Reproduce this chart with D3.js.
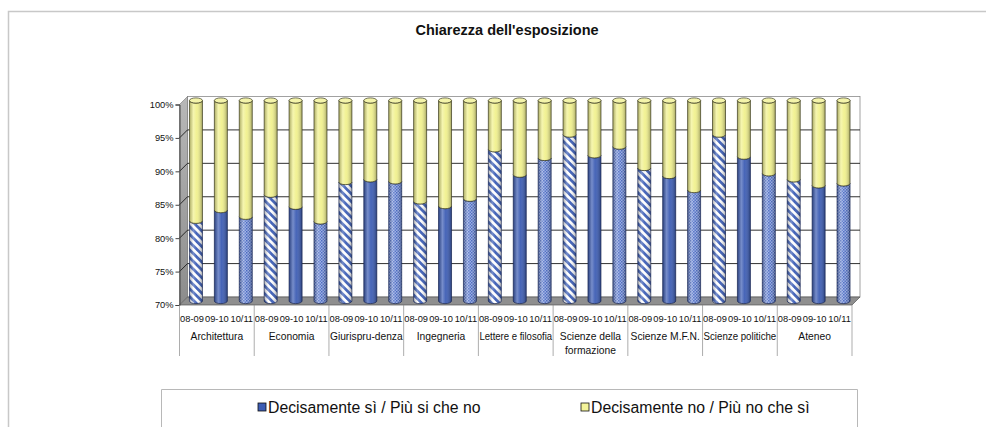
<!DOCTYPE html>
<html>
<head>
<meta charset="utf-8">
<script src="https://cdn.jsdelivr.net/npm/d3@7"></script>
<style>
  body { margin: 0; background: #fff; }
  text { font-family: "Liberation Sans", Arial, sans-serif; fill: #111; }
</style>
</head>
<body>
<script>
  const categories = [
    ['Architettura'], ['Economia'], ['Giurispru-denza'], ['Ingegneria'],
    ['Lettere e filosofia'], ['Scienze della', 'formazione'], ['Scienze M.F.N.'],
    ['Scienze politiche'], ['Ateneo']
  ];
  const years = ['08-09', '09-10', '10/11'];
  // "Decisamente sì / Più si che no" share, 3 years per category
  const positive = [
    82.0, 83.6, 82.6,
    85.9, 84.1, 81.9,
    87.8, 88.2, 87.9,
    84.9, 84.2, 85.3,
    92.7, 88.9, 91.4,
    94.9, 91.8, 93.1,
    89.9, 88.7, 86.6,
    94.9, 91.6, 89.1,
    88.2, 87.3, 87.6
  ];
  const yTicks = [70, 75, 80, 85, 90, 95, 100];
  const legendLabels = ['Decisamente sì / Più si che no', 'Decisamente no / Più no che sì'];

  const W = 986, H = 427;
  const dx = 8, dy = -8;          // 3D depth offset
  const mx = dx / 2, my = dy / 2; // bars sit at middle depth

  const svg = d3.select('body').append('svg').attr('width', W).attr('height', H);
  const defs = svg.append('defs');

  // stripes for 08-09
  const stripes = defs.append('pattern').attr('id', 'stripes')
    .attr('patternUnits', 'userSpaceOnUse').attr('width', 5.5).attr('height', 5.5)
    .attr('patternTransform', 'rotate(-45)');
  stripes.append('rect').attr('width', 5.5).attr('height', 5.5).attr('fill', '#ffffff');
  stripes.append('rect').attr('width', 2.8).attr('height', 5.5).attr('fill', '#3a5cb6');

  // dots for 10/11
  const dots = defs.append('pattern').attr('id', 'dots')
    .attr('patternUnits', 'userSpaceOnUse').attr('width', 3).attr('height', 3);
  dots.append('rect').attr('width', 3).attr('height', 3).attr('fill', '#96abe4');
  dots.append('rect').attr('width', 1.5).attr('height', 1.5).attr('fill', '#4262bc');
  dots.append('rect').attr('x', 1.5).attr('y', 1.5).attr('width', 1.5).attr('height', 1.5).attr('fill', '#4d6cc2');

  const shade = defs.append('linearGradient').attr('id', 'shade');
  [[0, '#000', 0.28], [0.3, '#fff', 0.3], [0.55, '#fff', 0.05], [1, '#000', 0.32]].forEach(([o, c, a]) =>
    shade.append('stop').attr('offset', o).attr('stop-color', c).attr('stop-opacity', a));

  const wallGrad = defs.append('linearGradient').attr('id', 'wall').attr('x1', 0).attr('x2', 0).attr('y1', 0).attr('y2', 1);
  wallGrad.append('stop').attr('offset', 0).attr('stop-color', '#b8b8b8');
  wallGrad.append('stop').attr('offset', 1).attr('stop-color', '#8c8c8c');

  // outer chart border
  svg.append('path').attr('d', `M8.5,${H}V11.5H${W}`).attr('fill', 'none')
    .attr('stroke', '#c8c8c8').attr('stroke-width', 1.5);

  svg.append('text').attr('x', 507).attr('y', 35).attr('text-anchor', 'middle')
    .attr('font-size', 14.5).attr('font-weight', 'bold').text("Chiarezza dell'esposizione");

  const n = categories.length * years.length;
  const x = d3.scaleBand().domain(d3.range(n)).range([179.5, 852]);
  const y = d3.scaleLinear().domain([70, 100]).range([305, 104.5]);
  const x0 = x.range()[0], x1 = x.range()[1];

  const g = svg.append('g');

  // back wall
  g.append('rect').attr('x', x0 + dx).attr('y', y(100) + dy)
    .attr('width', x1 - x0).attr('height', y(70) - y(100))
    .attr('fill', '#fff').attr('stroke', '#8a8a8a').attr('stroke-width', 0.8);
  // left wall
  g.append('path')
    .attr('d', `M${x0},${y(100)}L${x0 + dx},${y(100) + dy}L${x0 + dx},${y(70) + dy}L${x0},${y(70)}Z`)
    .attr('fill', 'url(#wall)').attr('stroke', '#777').attr('stroke-width', 0.6);
  // gridlines
  yTicks.filter(t => t > 70 && t < 100).forEach(t => {
    g.append('path')
      .attr('d', `M${x0},${y(t)}L${x0 + dx},${y(t) + dy}H${x1 + dx}`)
      .attr('fill', 'none').attr('stroke', '#1a1a1a').attr('stroke-width', 0.9);
  });
  // floor
  g.append('path')
    .attr('d', `M${x0},${y(70)}L${x0 + dx},${y(70) + dy}H${x1 + dx}L${x1},${y(70)}Z`)
    .attr('fill', '#8f8f8f').attr('stroke', '#555').attr('stroke-width', 0.7);

  // y axis
  const yAxis = g.append('g').attr('transform', `translate(${x0},0)`)
    .call(d3.axisLeft(y).tickValues(yTicks).tickSize(4).tickPadding(2).tickFormat(d => d + '%'));
  yAxis.select('.domain').attr('stroke', '#444');
  yAxis.selectAll('line').attr('stroke', '#444');
  yAxis.selectAll('text').attr('font-size', 9.3).attr('font-family', '"Liberation Sans", Arial, sans-serif').attr('fill', '#111');

  // x axis labels
  const xl = g.append('g');
  d3.range(n).forEach(i => {
    xl.append('text').attr('x', x(i) + x.bandwidth() / 2).attr('y', 322)
      .attr('text-anchor', 'middle').attr('font-size', 9.3)
      .text(years[i % 3]);
  });
  const groupW = x.step() * 3;
  d3.range(categories.length + 1).forEach(c => {
    xl.append('line').attr('x1', x0 + c * groupW).attr('x2', x0 + c * groupW)
      .attr('y1', y(70)).attr('y2', 356).attr('stroke', '#8a8a8a').attr('stroke-width', 0.7);
  });
  const cl = g.append('g');
  categories.forEach((lines, c) => {
    lines.forEach((s, k) => {
      cl.append('text').attr('x', x0 + (c + 0.5) * groupW).attr('y', 340 + k * 14)
        .attr('text-anchor', 'middle').attr('font-size', 10.3).text(s);
    });
  });
  // keep long category names inside their group
  cl.selectAll('text').each(function () {
    const w = this.getComputedTextLength();
    if (w > groupW - 2) d3.select(this).attr('textLength', groupW - 2).attr('lengthAdjust', 'spacingAndGlyphs');
  });

  // cylinders
  const rx = 6.5, ry = 2.6;
  const body = (cx, yt, yb) =>
    `M${cx - rx},${yt}L${cx - rx},${yb}A${rx},${ry} 0 0 0 ${cx + rx},${yb}` +
    `L${cx + rx},${yt}A${rx},${ry} 0 0 1 ${cx - rx},${yt}Z`;
  const blueFill = ['url(#stripes)', '#3d5db4', 'url(#dots)'];
  const bars = g.append('g');
  positive.forEach((v, i) => {
    const cx = x(i) + x.bandwidth() / 2 + mx;
    const yb = y(70) + my, yv = y(v) + my, yt = y(100) + my;
    const bg = bars.append('g');
    bg.append('path').attr('d', body(cx, yv, yb)).attr('fill', blueFill[i % 3]);
    bg.append('path').attr('d', body(cx, yv, yb)).attr('fill', 'url(#shade)')
      .attr('stroke', '#1d2a55').attr('stroke-width', 0.7);
    bg.append('path').attr('d', body(cx, yt, yv)).attr('fill', '#f1f18e');
    bg.append('path').attr('d', body(cx, yt, yv)).attr('fill', 'url(#shade)')
      .attr('stroke', '#3a3a20').attr('stroke-width', 0.7);
    bg.append('ellipse').attr('cx', cx).attr('cy', yt).attr('rx', rx).attr('ry', ry)
      .attr('fill', '#f4f4aa').attr('stroke', '#3a3a20').attr('stroke-width', 0.7);
  });

  // legend
  svg.append('path').attr('d', `M161.5,${H}V389.5H857.5V${H}`).attr('fill', 'none')
    .attr('stroke', '#b8b8b8').attr('stroke-width', 1);
  const legX = [258, 581];
  const legFill = ['#3d5db4', '#f4f49a'];
  legendLabels.forEach((s, k) => {
    svg.append('rect').attr('x', legX[k]).attr('y', 403).attr('width', 8).attr('height', 8)
      .attr('fill', legFill[k]).attr('stroke', '#111').attr('stroke-width', 0.8);
    svg.append('text').attr('x', legX[k] + 10).attr('y', 412.5).attr('font-size', 15.8).text(s);
  });
</script>
</body>
</html>
